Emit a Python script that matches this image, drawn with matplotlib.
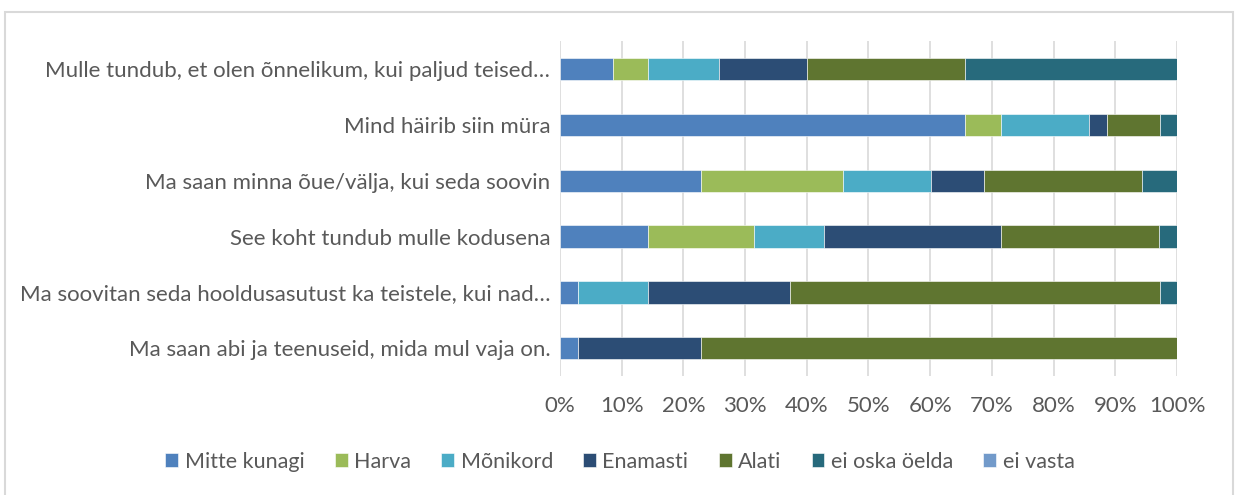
import numpy as np
import matplotlib
matplotlib.use("Agg")
import matplotlib.pyplot as plt
from matplotlib.patches import Rectangle

plt.rcParams['font.family'] = ['Lato', 'DejaVu Sans']

# Survey statements (top to bottom as shown)
statements = [
    "Mulle tundub, et olen õnnelikum, kui paljud teised…",
    "Mind häirib siin müra",
    "Ma saan minna õue/välja, kui seda soovin",
    "See koht tundub mulle kodusena",
    "Ma soovitan seda hooldusasutust ka teistele, kui nad…",
    "Ma saan abi ja teenuseid, mida mul vaja on.",
]

# Share of answers in percent for each statement
mitte_kunagi = [8.6, 65.7, 22.9, 14.3, 2.9, 2.9]
harva        = [5.7, 5.7, 22.9, 17.1, 0.0, 0.0]
monikord     = [11.4, 14.3, 14.3, 11.4, 11.4, 0.0]
enamasti     = [14.3, 2.9, 8.6, 28.6, 22.9, 20.0]
alati        = [25.7, 8.6, 25.7, 25.7, 60.0, 77.1]
ei_oska      = [34.3, 2.9, 5.7, 2.9, 2.9, 0.0]
ei_vasta     = [0.0, 0.0, 0.0, 0.0, 0.0, 0.0]

series = ["Mitte kunagi", "Harva", "Mõnikord", "Enamasti", "Alati", "ei oska öelda", "ei vasta"]
values = [mitte_kunagi, harva, monikord, enamasti, alati, ei_oska, ei_vasta]
colors = ["#4F81BD", "#9BBB59", "#4BACC6", "#2C4D75", "#5F7530", "#276A7C", "#729ACA"]

fig = plt.figure(figsize=(12.4, 4.95), dpi=100)
ax = fig.add_axes([0.4516, 0.240, 0.4976, 0.677])

y = np.arange(len(statements))[::-1]
left = np.zeros(len(statements))
for name, vals, col in zip(series, values, colors):
    vals = np.array(vals)
    ax.barh(y, vals, left=left, height=0.4, color=col, label=name,
            edgecolor="white", linewidth=0.4)
    left += vals

ax.set_xlim(0, 100)
ax.set_ylim(-0.5, len(statements) - 0.5)
ax.set_xticks(np.arange(0, 101, 10))
ax.set_xticklabels([f"{v}%" for v in range(0, 101, 10)])
ax.set_yticks(y)
ax.set_yticklabels(statements)
ax.grid(axis="x", color="#D9D9D9", linewidth=1.2)
ax.set_axisbelow(True)
for s in ax.spines.values():
    s.set_visible(False)
ax.tick_params(axis="both", length=0, labelsize=16, colors="#595959")
ax.tick_params(axis="x", pad=14)
ax.tick_params(axis="y", pad=7)

leg = fig.legend(loc="center", bbox_to_anchor=(0.5, 0.067), ncol=7, frameon=False,
                 fontsize=15.5, handlelength=0.6, handleheight=0.6,
                 handletextpad=0.3, columnspacing=1.4)
for t in leg.get_texts():
    t.set_color("#595959")

# chart frame
fig.add_artist(Rectangle((0.004, -0.05), 0.99, 1.026, transform=fig.transFigure,
                         fill=False, edgecolor="#D9D9D9", linewidth=1.5))

fig.savefig("out.png", dpi=100)
